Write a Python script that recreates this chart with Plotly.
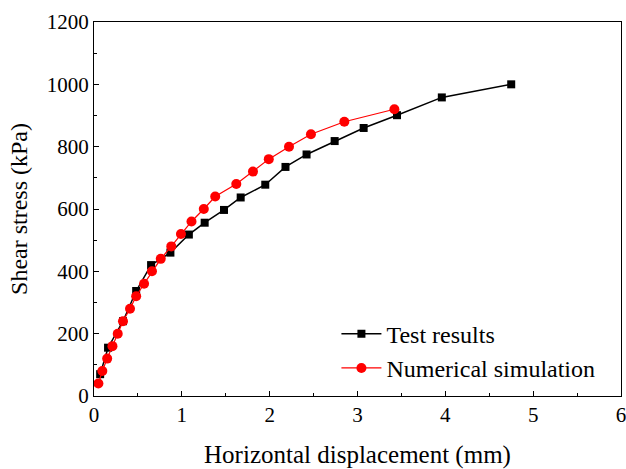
import plotly.graph_objects as go

test_x = [0.07, 0.16, 0.33, 0.48, 0.65, 0.87, 1.08, 1.26, 1.48, 1.67, 1.95, 2.18, 2.42, 2.74, 3.07, 3.45, 3.96, 4.75]
test_y = [70, 155, 240, 337, 420, 460, 518, 556, 597, 637, 678, 735, 775, 818, 860, 901, 958, 1000]

sim_x = [0.05, 0.095, 0.15, 0.21, 0.27, 0.33, 0.41, 0.48, 0.57, 0.66, 0.76, 0.88, 0.99,
         1.11, 1.25, 1.38, 1.62, 1.81, 1.99, 2.22, 2.47, 2.85, 3.42]
sim_y = [40, 80, 120, 160, 200, 240, 280, 320, 360, 400, 440, 480, 520,
         560, 600, 640, 680, 720, 760, 800, 840, 880, 920]

x_ticks = [0, 1, 2, 3, 4, 5, 6]
y_ticks = [0, 200, 400, 600, 800, 1000, 1200]

font = "Liberation Serif, Times New Roman, serif"

fig = go.Figure()
fig.add_trace(go.Scatter(x=test_x, y=test_y, mode="lines+markers", name="Test results",
                         line=dict(color="black", width=1.5),
                         marker=dict(symbol="square", size=8, color="black")))
fig.add_trace(go.Scatter(x=sim_x, y=sim_y, mode="lines+markers", name="Numerical simulation",
                         line=dict(color="red", width=1.2),
                         marker=dict(symbol="circle", size=10, color="red")))

axis_common = dict(showline=True, linecolor="black", linewidth=1.2, mirror=True,
                   ticks="inside", ticklen=5, tickwidth=1.2, tickcolor="black",
                   showgrid=False, zeroline=False, automargin=False,
                   ticklabeloverflow="allow",
                   tickfont=dict(family=font, size=21, color="black"))

fig.update_xaxes(range=[0, 6], tickvals=x_ticks, ticktext=[str(v) for v in x_ticks],
                 minor=dict(ticks="inside", ticklen=3, tickwidth=1.2, tickcolor="black", dtick=0.5),
                 title=dict(text="Horizontal displacement (mm)", font=dict(family=font, size=25, color="black"), standoff=22),
                 **axis_common)
fig.update_yaxes(range=[0, 1200], tickvals=y_ticks, ticktext=[str(v) for v in y_ticks],
                 minor=dict(ticks="inside", ticklen=3, tickwidth=1.2, tickcolor="black", dtick=100),
                 title=dict(text="Shear stress (kPa)", font=dict(family=font, size=24, color="black"), standoff=12),
                 **axis_common)

fig.update_layout(width=626, height=469, margin=dict(l=94, r=5, t=22, b=73),
                  plot_bgcolor="white", paper_bgcolor="white",
                  font=dict(family=font, size=21, color="black"),
                  legend=dict(x=0.46, y=0.12, xanchor="left", yanchor="middle",
                              bgcolor="rgba(0,0,0,0)", font=dict(family=font, size=24, color="black"),
                              tracegroupgap=0, itemwidth=40))

fig.write_html("out.html", config={"displayModeBar": False},
               post_script="document.body.style.margin='0';document.body.style.overflow='hidden';")
